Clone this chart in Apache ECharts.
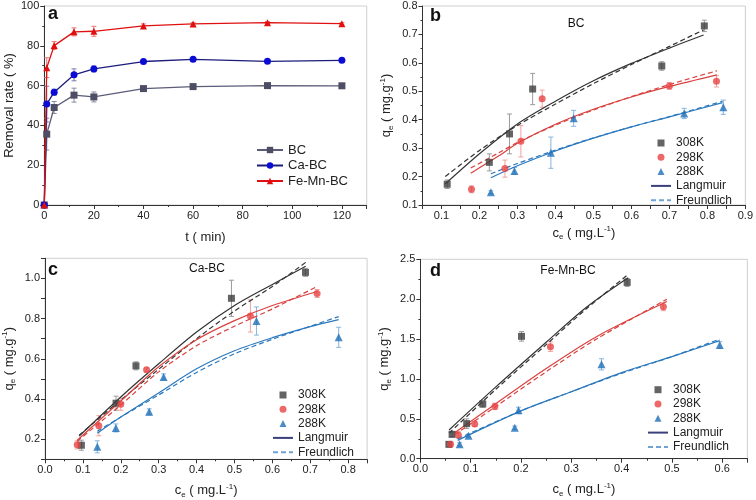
<!DOCTYPE html>
<html><head><meta charset="utf-8">
<script src="https://cdn.jsdelivr.net/npm/echarts@6/dist/echarts.min.js"></script>
<style>html,body{margin:0;padding:0;background:#fff}#c{width:756px;height:500px}</style>
</head><body><div id="c"></div>
<script>
// ---------- Panel a: removal rate vs time ----------
const tA = [0, 1, 4, 12, 20, 40, 60, 90, 120];
const bcA = [0, 35.6, 49, 55.2, 54.3, 58.5, 59.5, 60, 59.9];
const bcAErr = [0, 8, 3, 3.5, 2.5, 1, 0.6, 0.5, 0.5];
const caA = [0, 50.7, 56.7, 65.4, 68.4, 72.1, 73.2, 72.2, 72.7];
const caAErr = [0, 9, 1.5, 3, 1.5, 1, 0.8, 0.6, 0.6];
const feA = [0, 69, 80.1, 87, 87.3, 90, 91, 91.6, 91.1];
const feAErr = [0, 5, 2, 2, 2.5, 1, 0.6, 0.5, 0.5];

// ---------- Panel b: BC isotherms ----------
const bX308 = [0.115, 0.226, 0.279, 0.34, 0.68, 0.792];
const bY308 = [0.173, 0.25, 0.35, 0.508, 0.589, 0.73];
const bE308 = [0.015, 0.03, 0.07, 0.055, 0.015, 0.02];
const bX298 = [0.179, 0.267, 0.309, 0.365, 0.7, 0.824];
const bY298 = [0.155, 0.228, 0.324, 0.474, 0.519, 0.535];
const bE298 = [0.012, 0.03, 0.055, 0.03, 0.012, 0.02];
const bX288 = [0.23, 0.292, 0.388, 0.448, 0.739, 0.842];
const bY288 = [0.145, 0.22, 0.284, 0.405, 0.422, 0.444];
const bE288 = [0.005, 0.012, 0.055, 0.028, 0.018, 0.025];
const bFx308 = [0.11, 0.2, 0.3, 0.4, 0.5, 0.6, 0.7, 0.79];
const bL308 = [0.174, 0.28, 0.385, 0.465, 0.537, 0.598, 0.652, 0.698];
const bF308 = [0.2, 0.292, 0.38, 0.455, 0.527, 0.594, 0.658, 0.716];
const bFx298 = [0.177, 0.25, 0.3, 0.4, 0.5, 0.6, 0.7, 0.825];
const bL298 = [0.212, 0.272, 0.317, 0.384, 0.437, 0.48, 0.517, 0.558];
const bF298 = [0.23, 0.283, 0.32, 0.381, 0.434, 0.481, 0.524, 0.572];
const bFx288 = [0.23, 0.3, 0.4, 0.5, 0.6, 0.7, 0.84];
const bL288 = [0.196, 0.238, 0.29, 0.335, 0.375, 0.41, 0.46];
const bF288 = [0.21, 0.246, 0.293, 0.336, 0.375, 0.411, 0.465];

// ---------- Panel c: Ca-BC isotherms ----------
const cX308 = [0.096, 0.1875, 0.24, 0.492, 0.6875];
const cY308 = [0.17, 0.379, 0.565, 0.901, 1.03];
const cE308 = [0.025, 0.035, 0.02, 0.09, 0.02];
const cX298 = [0.085, 0.142, 0.2, 0.268, 0.542, 0.718];
const cY298 = [0.172, 0.267, 0.374, 0.545, 0.813, 0.925];
const cE298 = [0.02, 0.05, 0.03, 0.01, 0.08, 0.02];
const cX288 = [0.138, 0.187, 0.275, 0.313, 0.558, 0.775];
const cY288 = [0.162, 0.256, 0.336, 0.51, 0.788, 0.707];
const cE288 = [0.03, 0.02, 0.015, 0.015, 0.07, 0.05];
const cFx308 = [0.09, 0.2, 0.3, 0.4, 0.5, 0.6, 0.688];
const cL308 = [0.215, 0.41, 0.575, 0.733, 0.865, 0.97, 1.06];
const cF308 = [0.22, 0.395, 0.548, 0.7, 0.838, 0.96, 1.08];
const cFx298 = [0.085, 0.2, 0.3, 0.4, 0.5, 0.6, 0.718];
const cL298 = [0.195, 0.39, 0.56, 0.695, 0.79, 0.865, 0.935];
const cF298 = [0.19, 0.37, 0.535, 0.665, 0.762, 0.848, 0.96];
const cFx288 = [0.138, 0.2, 0.3, 0.4, 0.5, 0.6, 0.7, 0.775];
const cL288 = [0.23, 0.31, 0.43, 0.55, 0.64, 0.705, 0.76, 0.795];
const cF288 = [0.24, 0.31, 0.42, 0.532, 0.625, 0.697, 0.762, 0.81];

// ---------- Panel d: Fe-Mn-BC isotherms ----------
const dX308 = [0.0566, 0.063, 0.092, 0.124, 0.201, 0.411];
const dY308 = [0.18, 0.305, 0.44, 0.686, 1.534, 2.21];
const dE308 = [0.03, 0.03, 0.06, 0.04, 0.06, 0.05];
const dX298 = [0.06, 0.0755, 0.108, 0.148, 0.2585, 0.483];
const dY298 = [0.18, 0.297, 0.435, 0.656, 1.405, 1.906];
const dE298 = [0.03, 0.04, 0.03, 0.04, 0.06, 0.05];
const dX288 = [0.078, 0.0957, 0.1875, 0.195, 0.36, 0.595];
const dY288 = [0.18, 0.288, 0.389, 0.606, 1.183, 1.426];
const dE288 = [0.02, 0.02, 0.02, 0.04, 0.07, 0.04];
const dFx308 = [0.057, 0.15, 0.25, 0.33, 0.413];
const dL308 = [0.36, 0.9, 1.46, 1.9, 2.27];
const dF308 = [0.32, 0.87, 1.43, 1.88, 2.31];
const dFx298 = [0.068, 0.15, 0.25, 0.35, 0.49];
const dL298 = [0.326, 0.69, 1.13, 1.53, 1.97];
const dF298 = [0.3, 0.655, 1.09, 1.5, 2.0];
const dFx288 = [0.074, 0.2, 0.3, 0.4, 0.5, 0.595];
const dL288 = [0.23, 0.6, 0.84, 1.08, 1.28, 1.48];
const dF288 = [0.25, 0.6, 0.84, 1.07, 1.28, 1.5];

const FONT = 'Liberation Sans, Arial, sans-serif';
const AX = '#333';
const C308 = '#3d3d3d', C298 = '#e84343', C288 = '#1f6fb8';
const L308 = '#333333', L298 = '#d9413e', L288 = '#2a78bd';
const E308 = '#9a9a9a', E298 = '#f0a0a0', E288 = '#86b4dc';
const SQ = 'path://M0,0H10V10H0Z', TRI = 'path://M5,0L10,10H0Z';

const zip = (xs, ys) => xs.map((x, i) => [x, ys[i]]);

function errSeries(xi, xs, ys, es, color, cap) {
  return {
    type: 'custom', xAxisIndex: xi, yAxisIndex: xi, z: 1, silent: true,
    data: xs.map((x, i) => [x, ys[i] - es[i], ys[i] + es[i]]),
    encode: {x: 0, y: [1, 2]},
    renderItem: (p, api) => {
      const lo = api.coord([api.value(0), api.value(1)]);
      const hi = api.coord([api.value(0), api.value(2)]);
      const h = cap / 2, st = {stroke: color, lineWidth: 1};
      return {type: 'group', children: [
        {type: 'line', shape: {x1: lo[0], y1: lo[1], x2: hi[0], y2: hi[1]}, style: st},
        {type: 'line', shape: {x1: lo[0] - h, y1: lo[1], x2: lo[0] + h, y2: lo[1]}, style: st},
        {type: 'line', shape: {x1: hi[0] - h, y1: hi[1], x2: hi[0] + h, y2: hi[1]}, style: st}
      ]};
    }
  };
}
function scat(xi, name, xs, ys, sym, size, color) {
  return {type: 'scatter', name, xAxisIndex: xi, yAxisIndex: xi, z: 3, symbol: sym, symbolSize: size,
    itemStyle: {color}, data: zip(xs, ys)};
}
function fit(xi, name, xs, ys, color, dashed) {
  return {type: 'line', name, xAxisIndex: xi, yAxisIndex: xi, z: 2, smooth: 0.3,
    symbol: 'none', lineStyle: {color, width: 1.2, type: dashed ? [5, 3] : 'solid'}, data: zip(xs, ys)};
}
const nameStyle = {fontSize: 13, color: '#222', fontFamily: FONT, lineHeight: 16,
  rich: {sub: {fontSize: 8, lineHeight: 8, verticalAlign: 'bottom', fontFamily: FONT, color: '#222'},
         sup: {fontSize: 8, lineHeight: 8, verticalAlign: 'top', fontFamily: FONT, color: '#222'}}};
function axis(gi, min, max, interval, fmt, name, gap, minor) {
  return {type: 'value', gridIndex: gi, min, max, interval,
    axisLine: {show: true, onZero: false, lineStyle: {color: AX, width: 1}},
    axisTick: {show: true, inside: false, length: 4, lineStyle: {color: AX}},
    minorTick: {show: !!minor, splitNumber: 2, length: 2, lineStyle: {color: AX}},
    splitLine: {show: false}, minorSplitLine: {show: false},
    axisLabel: {formatter: fmt, fontSize: 11, color: '#222', margin: 5, fontFamily: FONT},
    name, nameLocation: 'middle', nameGap: gap, nameTextStyle: nameStyle};
}
const f1 = v => v.toFixed(1);
const onlyMult = (step, dec) => v => {
  const k = v / step;
  return Math.abs(k - Math.round(k)) < 1e-6 ? v.toFixed(dec) : '';
};

const qe = 'q{sub|e} ( mg.g{sup|-1})';
const ce = 'c{sub|e} ( mg.L{sup|-1})';

const grids = [
  {left: 40.7, top: 6, width: 326, height: 199},
  {left: 422.5, top: 6, width: 325.5, height: 199},
  {left: 40.7, top: 258.3, width: 326.4, height: 201},
  {left: 420.4, top: 259.3, width: 327, height: 199.4}
].map(g => Object.assign(g, {show: true, borderColor: '#cfcfcf', borderWidth: 1, backgroundColor: 'transparent'}));

const xAxes = [
  axis(0, 0, 130, 20, onlyMult(20, 0), 't ( min)', 24, true),
  axis(1, 0.05, 0.9, 0.05, onlyMult(0.1, 1), ce, 20, false),
  axis(2, 0, 0.85, 0.1, onlyMult(0.1, 1), ce, 23, true),
  axis(3, 0, 0.65, 0.1, onlyMult(0.1, 1), ce, 23, true)
];
const yAxes = [
  axis(0, 0, 100, 20, v => String(v), 'Removal rate ( %)', 24, true),
  axis(1, 0.1, 0.8, 0.1, f1, qe, 28, true),
  axis(2, 0.1, 1.1, 0.1, onlyMult(0.2, 1), qe, 28, false),
  axis(3, 0, 2.5, 0.5, f1, qe, 28, true)
];

function lineA(name, ys, lc, mc, sym) {
  return {type: 'line', name, xAxisIndex: 0, yAxisIndex: 0, z: 3, symbol: sym, symbolSize: 7,
    showAllSymbol: true, lineStyle: {color: lc, width: 1.3}, itemStyle: {color: mc},
    data: zip(tA, ys)};
}

const series = [
  // legend-only line samples
  {type: 'line', name: 'Langmuir', xAxisIndex: 1, yAxisIndex: 1, symbol: 'none', data: [],
   itemStyle: {color: '#3b3f7a'}, lineStyle: {color: '#3b3f7a', width: 1.3}},
  {type: 'line', name: 'Freundlich', xAxisIndex: 1, yAxisIndex: 1, symbol: 'none', data: [],
   itemStyle: {color: '#6fa3d3'}, lineStyle: {color: '#6fa3d3', width: 1.3, type: [5, 3]}},
  // panel a
  errSeries(0, tA, bcA, bcAErr, '#8a8aa0', 5),
  errSeries(0, tA, caA, caAErr, '#7a7ab0', 5),
  errSeries(0, tA, feA, feAErr, '#e87070', 5),
  lineA('BC', bcA, '#5c5c7a', '#4d4d66', 'rect'),
  lineA('Ca-BC', caA, '#1c1c7c', '#0b0bd6', 'circle'),
  lineA('Fe-Mn-BC', feA, '#e01010', '#e01010', 'triangle'),
  // panel b
  errSeries(1, bX308, bY308, bE308, E308, 5),
  errSeries(1, bX298, bY298, bE298, E298, 5),
  errSeries(1, bX288, bY288, bE288, E288, 5),
  fit(1, 'b308L', bFx308, bL308, L308, false), fit(1, 'b308F', bFx308, bF308, L308, true),
  fit(1, 'b298L', bFx298, bL298, L298, false), fit(1, 'b298F', bFx298, bF298, L298, true),
  fit(1, 'b288L', bFx288, bL288, L288, false), fit(1, 'b288F', bFx288, bF288, L288, true),
  scat(1, '308K', bX308, bY308, 'rect', 7, C308),
  scat(1, '298K', bX298, bY298, 'circle', 7, C298),
  scat(1, '288K', bX288, bY288, 'triangle', 8, C288),
  // panel c
  errSeries(2, cX308, cY308, cE308, E308, 5),
  errSeries(2, cX298, cY298, cE298, E298, 5),
  errSeries(2, cX288, cY288, cE288, E288, 5),
  fit(2, 'c308L', cFx308, cL308, L308, false), fit(2, 'c308F', cFx308, cF308, L308, true),
  fit(2, 'c298L', cFx298, cL298, L298, false), fit(2, 'c298F', cFx298, cF298, L298, true),
  fit(2, 'c288L', cFx288, cL288, L288, false), fit(2, 'c288F', cFx288, cF288, L288, true),
  scat(2, '308K', cX308, cY308, 'rect', 7, C308),
  scat(2, '298K', cX298, cY298, 'circle', 7, C298),
  scat(2, '288K', cX288, cY288, 'triangle', 8, C288),
  // panel d
  errSeries(3, dX308, dY308, dE308, E308, 5),
  errSeries(3, dX298, dY298, dE298, E298, 5),
  errSeries(3, dX288, dY288, dE288, E288, 5),
  fit(3, 'd308L', dFx308, dL308, L308, false), fit(3, 'd308F', dFx308, dF308, L308, true),
  fit(3, 'd298L', dFx298, dL298, L298, false), fit(3, 'd298F', dFx298, dF298, L298, true),
  fit(3, 'd288L', dFx288, dL288, L288, false), fit(3, 'd288F', dFx288, dF288, L288, true),
  scat(3, '308K', dX308, dY308, 'rect', 7, C308),
  scat(3, '298K', dX298, dY298, 'circle', 7, C298),
  scat(3, '288K', dX288, dY288, 'triangle', 8, C288)
];

const noSym = {color: 'rgba(0,0,0,0)', borderWidth: 0, opacity: 0};
const isoLegendData = [
  {name: '308K', icon: SQ}, {name: '298K', icon: 'circle'}, {name: '288K', icon: TRI},
  {name: 'Langmuir', itemStyle: noSym}, {name: 'Freundlich', itemStyle: noSym}
];
function isoLegend(left, top) {
  return {orient: 'vertical', left, top, padding: 0, itemGap: 2.3, itemWidth: 20, itemHeight: 7,
    symbolKeepAspect: true, selectedMode: false, data: isoLegendData,
    textStyle: {fontSize: 12, color: '#222', fontFamily: FONT}};
}
const legends = [
  {orient: 'vertical', left: 256, top: 143.5, padding: 0, itemGap: 2.5, itemWidth: 26, itemHeight: 8,
   selectedMode: false, data: ['BC', 'Ca-BC', 'Fe-Mn-BC'],
   textStyle: {fontSize: 13, color: '#222', fontFamily: FONT}},
  isoLegend(650, 137),
  isoLegend(272, 389),
  isoLegend(647, 383.7)
];

function txt(x, y, text, size, bold) {
  return {type: 'text', x, y, style: {text, fontSize: size, fontWeight: bold ? 'bold' : 'normal',
    fontFamily: FONT, fill: '#111', align: bold ? 'left' : 'center', verticalAlign: 'middle'}};
}
const graphics = [
  txt(48, 14, 'a', 18, true), txt(430, 16, 'b', 18, true),
  txt(48, 270, 'c', 18, true), txt(430, 271, 'd', 18, true),
  txt(576, 24, 'BC', 12), txt(207, 269, 'Ca-BC', 12), txt(568, 271, 'Fe-Mn-BC', 12)
];

const chart = echarts.init(document.getElementById('c'), null, {renderer: 'canvas'});
chart.setOption({
  animation: false, backgroundColor: '#fff',
  grid: grids, xAxis: xAxes, yAxis: yAxes, series, legend: legends, graphic: graphics
});
</script></body></html>
